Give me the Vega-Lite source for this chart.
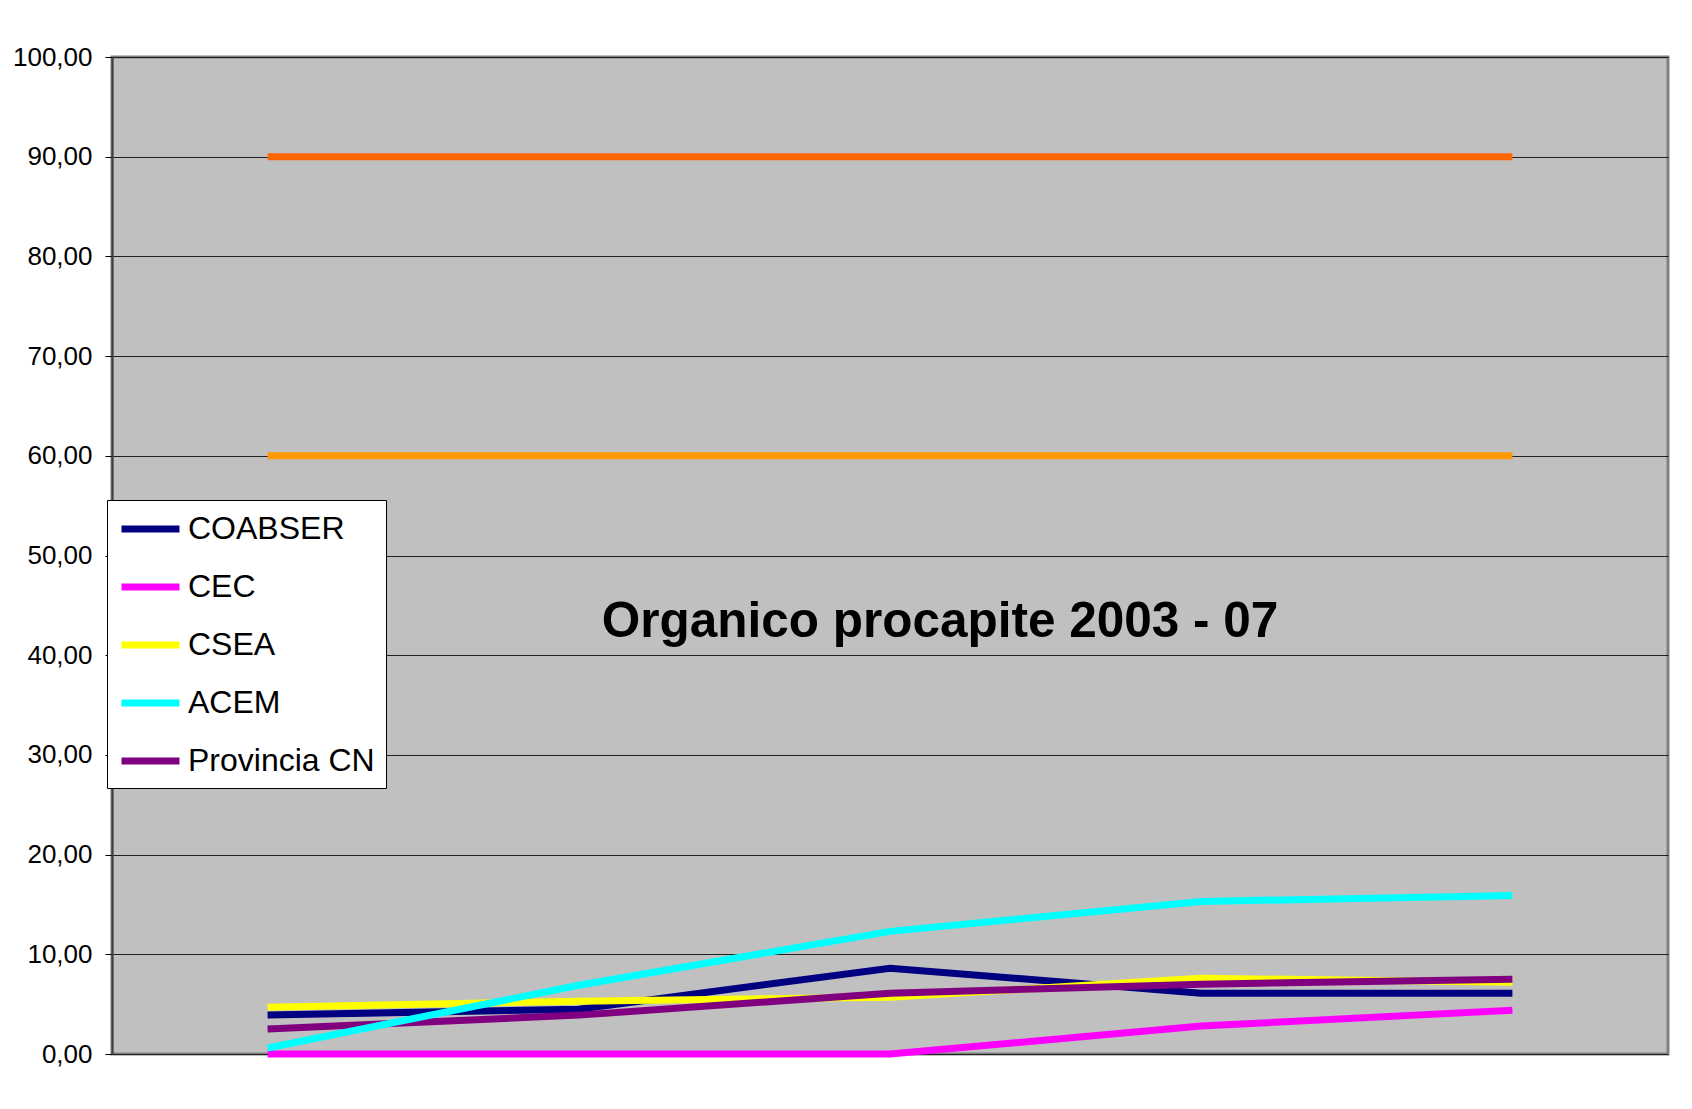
{
  "$schema": "https://vega.github.io/schema/vega-lite/v6.json",
  "width": 1556,
  "height": 997,
  "autosize": {"type": "none"},
  "padding": {"left": 112, "top": 57, "right": 24, "bottom": 55},
  "background": "white",
  "config": {
    "view": {"fill": "#C0C0C0", "stroke": "#808080", "strokeWidth": 3},
    "font": "Liberation Sans"
  },
  "title": {
    "text": "Organico procapite 2003 - 07",
    "orient": "top",
    "anchor": "middle",
    "frame": "group",
    "baseline": "alphabetic",
    "offset": -642,
    "dx": 50,
    "font": "Liberation Sans",
    "fontSize": 49.5,
    "fontWeight": "bold",
    "color": "black"
  },
  "data": {
    "values": [
      {"anno": "2003", "serie": "Limite 90", "valore": 90},
      {"anno": "2004", "serie": "Limite 90", "valore": 90},
      {"anno": "2005", "serie": "Limite 90", "valore": 90},
      {"anno": "2006", "serie": "Limite 90", "valore": 90},
      {"anno": "2007", "serie": "Limite 90", "valore": 90},
      {"anno": "2003", "serie": "Limite 60", "valore": 60},
      {"anno": "2004", "serie": "Limite 60", "valore": 60},
      {"anno": "2005", "serie": "Limite 60", "valore": 60},
      {"anno": "2006", "serie": "Limite 60", "valore": 60},
      {"anno": "2007", "serie": "Limite 60", "valore": 60},
      {"anno": "2003", "serie": "COABSER", "valore": 3.9},
      {"anno": "2004", "serie": "COABSER", "valore": 4.5},
      {"anno": "2005", "serie": "COABSER", "valore": 8.6},
      {"anno": "2006", "serie": "COABSER", "valore": 6.1},
      {"anno": "2007", "serie": "COABSER", "valore": 6.1},
      {"anno": "2003", "serie": "CEC", "valore": 0},
      {"anno": "2004", "serie": "CEC", "valore": 0},
      {"anno": "2005", "serie": "CEC", "valore": 0},
      {"anno": "2006", "serie": "CEC", "valore": 2.8},
      {"anno": "2007", "serie": "CEC", "valore": 4.4},
      {"anno": "2003", "serie": "CSEA", "valore": 4.7},
      {"anno": "2004", "serie": "CSEA", "valore": 5.3},
      {"anno": "2005", "serie": "CSEA", "valore": 5.7},
      {"anno": "2006", "serie": "CSEA", "valore": 7.6},
      {"anno": "2007", "serie": "CSEA", "valore": 7.2},
      {"anno": "2003", "serie": "Provincia CN", "valore": 2.5},
      {"anno": "2004", "serie": "Provincia CN", "valore": 3.9},
      {"anno": "2005", "serie": "Provincia CN", "valore": 6.1},
      {"anno": "2006", "serie": "Provincia CN", "valore": 7.0},
      {"anno": "2007", "serie": "Provincia CN", "valore": 7.5},
      {"anno": "2003", "serie": "ACEM", "valore": 0.6},
      {"anno": "2004", "serie": "ACEM", "valore": 6.9},
      {"anno": "2005", "serie": "ACEM", "valore": 12.3},
      {"anno": "2006", "serie": "ACEM", "valore": 15.3},
      {"anno": "2007", "serie": "ACEM", "valore": 15.9}
    ]
  },
  "mark": {"type": "line", "strokeWidth": 7, "strokeCap": "butt", "strokeJoin": "miter"},
  "encoding": {
    "x": {
      "field": "anno",
      "type": "ordinal",
      "scale": {"type": "point", "padding": 0.5},
      "axis": null
    },
    "y": {
      "field": "valore",
      "type": "quantitative",
      "scale": {"domain": [0, 100], "nice": false},
      "axis": {
        "title": null,
        "values": [0, 10, 20, 30, 40, 50, 60, 70, 80, 90, 100],
        "labelExpr": "replace(format(datum.value, '.2f'), '.', ',')",
        "labelFont": "Liberation Sans",
        "labelFontSize": 26,
        "labelColor": "black",
        "labelPadding": 13,
        "tickSize": 7,
        "tickColor": "black",
        "tickWidth": 1,
        "domainColor": "#404040",
        "domainWidth": 2,
        "grid": true,
        "gridColor": "#202020",
        "gridWidth": 1,
        "gridOpacity": 1
      }
    },
    "color": {
      "field": "serie",
      "type": "nominal",
      "scale": {
        "domain": ["COABSER", "CEC", "CSEA", "ACEM", "Provincia CN", "Limite 90", "Limite 60"],
        "range": ["#000080", "#FF00FF", "#FFFF00", "#00FFFF", "#800080", "#FF6600", "#FF9900"]
      },
      "legend": {
        "values": ["COABSER", "CEC", "CSEA", "ACEM", "Provincia CN"],
        "title": null,
        "orient": "none",
        "legendX": -5,
        "legendY": 443,
        "fillColor": "white",
        "strokeColor": "black",
        "padding": 11,
        "labelFont": "Liberation Sans",
        "labelFontSize": 32,
        "labelColor": "black",
        "labelLimit": 0,
        "labelOffset": 34,
        "symbolType": "M-1,0H3",
        "symbolSize": 840,
        "symbolStrokeWidth": 7,
        "rowPadding": 24,
        "cornerRadius": 0
      }
    }
  }
}
